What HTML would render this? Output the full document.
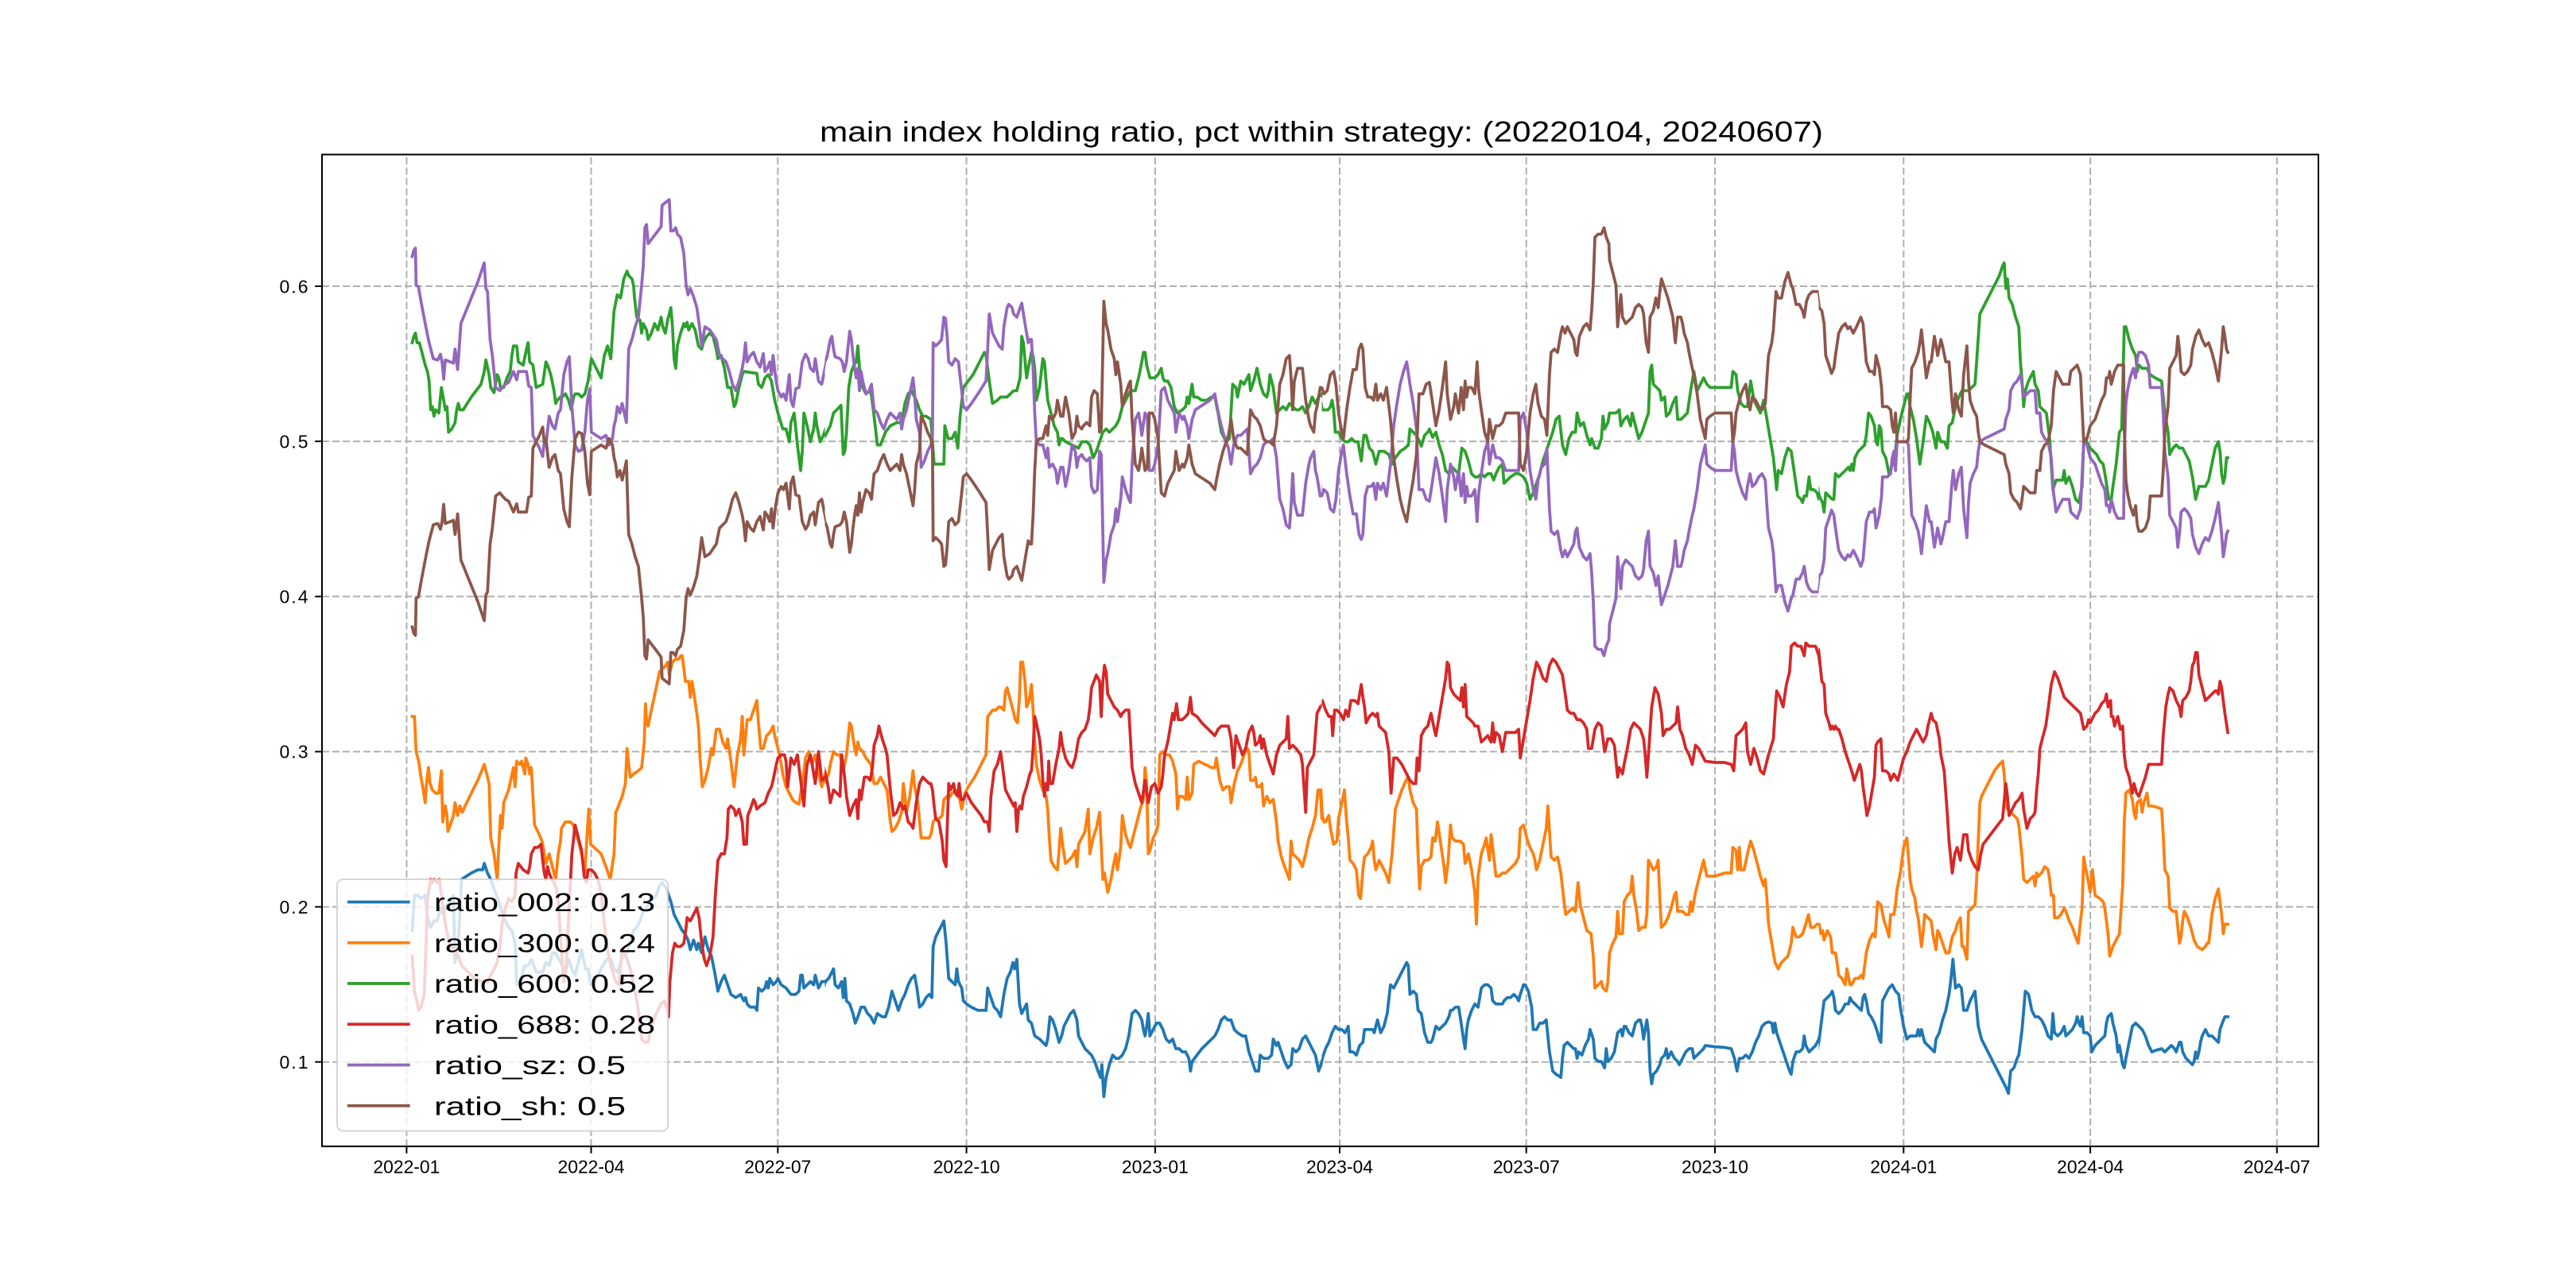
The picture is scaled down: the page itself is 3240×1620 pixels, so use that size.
<!DOCTYPE html>
<html><head><meta charset="utf-8"><style>
html,body{margin:0;padding:0;background:#fff;}
svg{display:block;}
text{font-family:"Liberation Sans","Noto Sans CJK SC",sans-serif;fill:#000;}
</style></head><body>
<svg width="3240" height="1620" viewBox="0 0 3240 1620" xmlns="http://www.w3.org/2000/svg">
<defs>
<clipPath id="c1"><rect x="400" y="190" width="637.5" height="1260"/></clipPath>
<clipPath id="c2"><rect x="1037.5" y="190" width="625" height="1260"/></clipPath>
<clipPath id="c3"><rect x="1662.5" y="190" width="625" height="1260"/></clipPath>
<clipPath id="c4"><rect x="2287.5" y="190" width="640" height="1260"/></clipPath>
</defs>
<rect width="3240" height="1620" fill="#fff"/>
<!-- grid -->
<g stroke="#b0b0b0" stroke-width="2" stroke-dasharray="9 4" fill="none">
<line x1="405" y1="1335.7" x2="2916" y2="1335.7"/>
<line x1="405" y1="1140.6" x2="2916" y2="1140.6"/>
<line x1="405" y1="945.4" x2="2916" y2="945.4"/>
<line x1="405" y1="750.3" x2="2916" y2="750.3"/>
<line x1="405" y1="555.1" x2="2916" y2="555.1"/>
<line x1="405" y1="360" x2="2916" y2="360"/>
<line x1="511.4" y1="1441.8" x2="511.4" y2="194.4"/>
<line x1="743.5" y1="1441.8" x2="743.5" y2="194.4"/>
<line x1="978.3" y1="1441.8" x2="978.3" y2="194.4"/>
<line x1="1215.6" y1="1441.8" x2="1215.6" y2="194.4"/>
<line x1="1452.9" y1="1441.8" x2="1452.9" y2="194.4"/>
<line x1="1685" y1="1441.8" x2="1685" y2="194.4"/>
<line x1="1919.7" y1="1441.8" x2="1919.7" y2="194.4"/>
<line x1="2157" y1="1441.8" x2="2157" y2="194.4"/>
<line x1="2394.3" y1="1441.8" x2="2394.3" y2="194.4"/>
<line x1="2629.1" y1="1441.8" x2="2629.1" y2="194.4"/>
<line x1="2863.8" y1="1441.8" x2="2863.8" y2="194.4"/>
</g>
<!-- series -->
<g fill="none" stroke-width="3.75" stroke-linejoin="round" stroke-linecap="square">
<!-- block 1 -->
<g clip-path="url(#c1)"><g transform="translate(405,190) scale(0.408163,0.803571)">
<polyline vector-effect="non-scaling-stroke" stroke="#1f77b4" points="278,1220 285,1165 295,1165 305,1170 318,1165 325,1200 335,1215 345,1205 355,1205 365,1185 375,1195 385,1180 395,1175 405,1165 410,1270 420,1240 430,1140 460,1130 480,1125 495,1125 500,1115 510,1130 520,1140 530,1155 545,1175 560,1200 575,1215 585,1220 595,1240 600,1305 610,1300 625,1275 635,1275 645,1265 660,1285 670,1285 680,1285 690,1270 700,1275 710,1255 720,1255 730,1265 740,1275 750,1285 760,1265 770,1280 780,1290 790,1270 800,1250 812,1280 820,1280 828,1305 840,1300 855,1285 865,1275 878,1265 890,1265 900,1280 910,1285 920,1270 930,1255 940,1255 950,1240 960,1220 970,1215 980,1205 990,1190 1000,1185 1010,1175 1020,1170 1030,1165 1040,1150 1048,1145 1055,1150 1062,1155 1068,1165 1075,1175 1085,1195 1095,1205 1110,1220 1118,1225 1128,1235 1135,1250 1145,1235 1155,1250 1160,1240 1170,1255 1180,1230 1190,1250 1200,1260 1210,1285 1220,1315 1230,1300 1240,1290 1250,1305 1260,1320 1275,1325 1290,1320 1300,1330 1305,1325 1310,1335 1320,1340 1335,1340 1340,1345 1345,1310 1355,1315 1365,1310 1370,1300 1375,1310 1380,1295 1390,1305 1400,1300 1405,1295 1415,1305 1430,1310 1445,1320 1460,1320 1470,1315 1475,1290 1480,1290 1485,1310 1495,1305 1505,1300 1515,1305 1520,1290 1525,1300 1530,1310 1540,1300 1550,1300 1560,1295 1568,1290"/>
<polyline vector-effect="non-scaling-stroke" stroke="#ff7f0e" points="278,885 285,885 290,940 298,955 305,980 312,1000 318,1020 322,990 328,965 333,990 340,1000 350,1005 360,1005 368,970 372,1050 380,1025 385,1040 388,1065 395,1055 405,1040 410,1020 418,1040 425,1025 432,1035 460,1005 480,985 500,960 515,990 520,1075 530,1100 540,1140 545,1085 550,1040 555,1060 560,1020 575,1000 590,965 595,995 600,955 610,960 615,955 620,965 625,975 628,950 635,960 640,975 645,965 655,1055 665,1065 678,1080 685,1100 690,1115 700,1100 710,1120 720,1140 728,1100 735,1080 738,1060 750,1050 765,1050 775,1055 780,1070 785,1070 800,1100 810,1130 818,1060 822,1030 828,1085 860,1100 875,1120 888,1140 900,1100 905,1035 910,1030 925,1010 935,990 940,935 945,960 950,980 960,975 975,970 985,965 993,925 997,865 1000,890 1005,900 1015,875 1030,840 1040,815 1050,810 1060,805 1065,800 1070,820 1080,800 1090,795 1100,795 1105,790 1110,790 1120,830 1130,830 1135,855 1140,830 1145,845 1155,880 1160,900 1165,950 1172,995 1180,985 1190,965 1200,935 1205,945 1215,905 1225,905 1235,925 1245,935 1250,920 1260,955 1270,995 1280,945 1290,920 1295,885 1300,945 1310,890 1320,890 1330,875 1340,860 1345,895 1352,935 1360,935 1370,915 1380,910 1385,905 1390,900 1395,915 1400,925 1410,945 1420,975 1430,995 1440,1005 1450,1015 1460,1020 1470,1022 1480,990 1490,950 1500,940 1510,960 1520,945 1530,975 1540,995 1550,975 1560,960 1568,950"/>
<polyline vector-effect="non-scaling-stroke" stroke="#2ca02c" points="278,300 283,290 288,285 293,300 300,300 308,315 318,335 325,345 330,360 335,405 340,400 345,415 350,405 360,410 368,370 375,390 380,405 385,400 390,440 400,435 410,425 415,405 420,395 425,405 435,405 460,385 490,365 500,345 505,327 515,350 520,370 530,378 540,350 545,355 550,370 560,370 570,355 580,345 585,320 590,305 600,305 605,330 620,335 630,310 635,300 640,330 650,335 660,370 680,365 690,330 695,335 705,350 715,375 720,395 725,390 735,385 740,385 750,380 760,390 768,405 775,385 780,380 790,380 800,385 810,380 820,360 830,325 840,335 860,355 870,320 880,305 890,325 900,250 910,225 920,230 930,200 940,188 945,195 955,200 960,210 963,230 970,260 980,265 985,285 990,270 1000,280 1005,295 1015,285 1025,270 1035,280 1045,260 1050,275 1058,285 1065,265 1075,245 1080,275 1085,325 1090,340 1095,305 1105,285 1115,270 1120,275 1125,268 1130,280 1140,270 1150,280 1160,305 1170,310 1175,300 1185,290 1195,285 1205,290 1215,310 1220,325 1230,320 1240,340 1250,370 1260,370 1270,400 1275,395 1285,370 1295,350 1300,345 1340,348 1345,365 1355,370 1365,355 1375,350 1385,360 1395,390 1405,410 1420,435 1430,435 1440,455 1445,425 1455,410 1465,460 1475,500 1480,470 1485,410 1495,430 1505,455 1515,435 1520,410 1525,430 1535,455 1545,445 1555,430 1568,430"/>
<polyline vector-effect="non-scaling-stroke" stroke="#d62728" points="278,1260 285,1315 290,1325 298,1345 305,1340 315,1320 320,1250 325,1170 330,1155 335,1140 340,1145 345,1140 355,1145 362,1140 370,1175 380,1210 395,1245 410,1250 420,1260 430,1275 450,1285 470,1295 490,1300 500,1300 510,1300 525,1285 540,1270 548,1245 555,1210 565,1185 575,1170 585,1175 595,1165 598,1130 605,1115 620,1125 635,1130 640,1120 645,1100 655,1090 665,1090 675,1085 680,1110 685,1130 690,1140 695,1120 700,1130 708,1140 715,1145 722,1155 728,1175 735,1230 740,1265 745,1300 752,1280 762,1180 770,1100 780,1055 790,1075 800,1095 808,1135 815,1145 820,1125 830,1125 840,1130 850,1140 860,1160 870,1210 880,1250 890,1275 905,1300 915,1305 925,1250 940,1265 950,1280 965,1315 975,1345 985,1390 995,1395 1005,1395 1015,1370 1030,1350 1045,1335 1055,1330 1065,1345 1068,1355 1072,1300 1080,1255 1087,1240 1095,1245 1105,1245 1115,1240 1122,1215 1125,1200 1135,1205 1145,1195 1155,1185 1162,1200 1170,1240 1178,1265 1185,1275 1195,1260 1205,1230 1212,1165 1220,1110 1230,1100 1240,1100 1248,1075 1252,1030 1260,1025 1270,1030 1275,1040 1285,1030 1295,1050 1300,1085 1308,1085 1312,1040 1320,1030 1330,1015 1335,1020 1340,1030 1350,1025 1365,1020 1375,1005 1385,995 1390,985 1400,960 1405,950 1415,945 1425,945 1430,955 1435,995 1445,950 1455,960 1465,945 1475,985 1485,1025 1490,985 1495,960 1505,945 1512,965 1520,990 1530,940 1540,985 1550,980 1560,1000 1568,1025"/>
<polyline id="sz1" vector-effect="non-scaling-stroke" stroke="#9467bd" points="278,165 283,155 288,152 290,210 297,212 305,235 318,270 330,300 343,325 357,327 365,318 370,330 375,357 380,327 395,330 405,332 410,310 418,342 428,270 440,255 460,230 480,205 500,175 505,215 510,220 518,295 525,320 535,370 548,375 556,370 565,365 575,362 590,345 600,358 605,345 615,345 630,345 637,368 645,370 650,445 660,455 670,465 680,478 685,455 690,460 700,415 710,430 718,435 728,410 735,405 745,350 755,330 762,322 770,400 780,460 790,470 800,468 810,440 818,390 825,372 830,440 845,445 860,450 875,445 885,460 895,450 900,430 905,420 910,400 918,410 925,395 938,425 945,310 955,295 965,275 975,260 985,210 990,180 995,120 1000,115 1005,145 1020,135 1035,125 1045,118 1048,85 1055,82 1065,78 1070,76 1075,125 1082,125 1090,120 1095,130 1105,135 1115,160 1122,210 1128,225 1135,215 1145,228 1155,245 1162,270 1170,305 1180,275 1195,280 1215,295 1225,320 1245,330 1255,345 1265,365 1275,375 1285,360 1295,340 1300,325 1305,300 1310,330 1320,320 1330,315 1340,330 1350,338 1360,317 1365,345 1372,340 1380,330 1385,350 1390,320 1398,355 1405,375 1415,385 1422,380 1430,390 1440,350 1445,390 1452,400 1460,372 1470,370 1480,330 1490,318 1498,325 1505,340 1515,345 1520,325 1530,360 1540,365 1550,340 1560,315 1568,290"/>
<polyline transform="matrix(1 0 0 -1 0 910)" vector-effect="non-scaling-stroke" stroke="#8c564b" points="278,165 283,155 288,152 290,210 297,212 305,235 318,270 330,300 343,325 357,327 365,318 370,330 375,357 380,327 395,330 405,332 410,310 418,342 428,270 440,255 460,230 480,205 500,175 505,215 510,220 518,295 525,320 535,370 548,375 556,370 565,365 575,362 590,345 600,358 605,345 615,345 630,345 637,368 645,370 650,445 660,455 670,465 680,478 685,455 690,460 700,415 710,430 718,435 728,410 735,405 745,350 755,330 762,322 770,400 780,460 790,470 800,468 810,440 818,390 825,372 830,440 845,445 860,450 875,445 885,460 895,450 900,430 905,420 910,400 918,410 925,395 938,425 945,310 955,295 965,275 975,260 985,210 990,180 995,120 1000,115 1005,145 1020,135 1035,125 1045,118 1048,85 1055,82 1065,78 1070,76 1075,125 1082,125 1090,120 1095,130 1105,135 1115,160 1122,210 1128,225 1135,215 1145,228 1155,245 1162,270 1170,305 1180,275 1195,280 1215,295 1225,320 1245,330 1255,345 1265,365 1275,375 1285,360 1295,340 1300,325 1305,300 1310,330 1320,320 1330,315 1340,330 1350,338 1360,317 1365,345 1372,340 1380,330 1385,350 1390,320 1398,355 1405,375 1415,385 1422,380 1430,390 1440,350 1445,390 1452,400 1460,372 1470,370 1480,330 1490,318 1498,325 1505,340 1515,345 1520,325 1530,360 1540,365 1550,340 1560,315 1568,290"/>
</g></g>
<!-- block 2 -->
<g clip-path="url(#c2)"><g transform="translate(1030,190) scale(0.408163,0.803571)">
<polyline vector-effect="non-scaling-stroke" stroke="#1f77b4" points="0,1310 10,1315 20,1300 30,1295 40,1285 45,1280 50,1305 60,1310 70,1300 75,1325 80,1295 85,1330 95,1335 105,1350 112,1365 120,1355 130,1340 140,1340 150,1350 160,1355 170,1365 180,1350 195,1355 205,1355 215,1340 225,1315 235,1330 245,1345 255,1330 265,1320 275,1305 285,1295 295,1290 302,1310 310,1340 320,1335 330,1325 340,1320 348,1325 352,1245 360,1230 370,1220 380,1210 385,1205 392,1240 400,1295 410,1300 420,1305 425,1280 430,1300 440,1310 445,1330 455,1335 470,1340 490,1345 515,1345 520,1310 530,1325 540,1340 550,1345 560,1355 570,1320 580,1295 590,1285 598,1270 603,1280 610,1265 618,1335 625,1350 635,1340 640,1335 645,1360 655,1365 665,1385 680,1390 690,1395 700,1400 705,1390 712,1355 720,1360 730,1375 740,1395 748,1385 755,1370 765,1360 775,1350 785,1345 795,1360 800,1385 810,1395 820,1405 830,1410 840,1415 850,1425 860,1440 868,1450 872,1430 878,1480 885,1450 895,1430 905,1415 915,1420 925,1420 935,1415 945,1405 955,1385 965,1350 975,1345 985,1350 995,1360 1000,1375 1005,1385 1010,1370 1015,1350 1020,1385 1030,1375 1040,1365 1050,1365 1060,1375 1070,1390 1080,1395 1090,1390 1100,1405 1110,1405 1120,1410 1130,1410 1140,1420 1145,1440 1150,1425 1165,1415 1180,1405 1200,1395 1220,1385 1230,1375 1240,1360 1250,1355 1260,1360 1270,1360 1280,1375 1290,1380 1305,1385 1315,1385 1325,1410 1335,1425 1345,1440 1355,1440 1360,1415 1370,1420 1385,1420 1395,1415 1400,1390 1410,1400 1415,1395 1425,1410 1435,1425 1445,1435 1455,1430 1460,1405 1470,1410 1480,1405 1490,1390 1500,1385 1510,1395 1520,1405 1530,1415 1540,1440 1550,1425 1560,1410 1568,1400"/>
<polyline vector-effect="non-scaling-stroke" stroke="#ff7f0e" points="0,990 10,995 20,985 30,975 35,960 45,940 55,945 65,945 75,970 85,945 95,895 100,900 110,935 115,945 120,925 125,935 135,940 145,950 160,960 170,990 180,990 190,980 200,990 210,1000 220,1050 225,1065 235,1060 245,1050 255,1035 260,990 265,1010 270,1035 280,1010 290,970 295,995 305,1020 315,1075 325,1075 340,1075 345,1070 352,1050 360,1045 370,1045 380,1040 385,1015 395,1010 405,1010 410,1005 420,1000 430,1005 440,1030 450,1005 460,995 480,980 500,960 515,945 520,885 528,880 535,875 545,875 555,870 560,870 570,875 575,845 580,840 590,860 598,875 605,890 612,895 618,855 622,800 628,800 635,830 640,870 648,860 655,835 660,875 665,925 670,960 680,985 690,1000 700,1010 705,1030 710,1075 715,1110 725,1120 735,1125 740,1095 745,1060 752,1090 760,1115 770,1110 780,1105 790,1095 795,1120 800,1085 810,1075 820,1065 830,1030 835,1100 845,1075 855,1060 865,1035 875,1140 880,1130 890,1160 900,1140 905,1125 915,1100 920,1125 930,1090 935,1040 945,1070 955,1085 960,1090 970,1070 980,1050 990,1030 1000,1015 1005,965 1010,990 1015,1100 1020,1095 1030,1075 1040,1065 1045,1055 1050,945 1060,940 1070,945 1080,945 1090,955 1100,975 1105,1030 1110,1010 1120,1010 1130,1015 1135,980 1140,1015 1150,1005 1155,960 1170,955 1190,960 1210,965 1220,965 1225,950 1235,985 1245,1000 1255,995 1265,995 1270,1020 1280,990 1290,970 1300,960 1310,945 1320,935 1325,940 1330,985 1340,985 1345,980 1350,995 1358,995 1365,990 1370,1025 1380,1010 1390,1020 1400,1015 1410,1050 1415,1080 1425,1105 1435,1120 1450,1140 1455,1080 1460,1100 1470,1105 1480,1110 1490,1120 1500,1100 1510,1075 1520,1060 1530,1040 1538,1000 1545,1000 1550,1045 1560,1050 1568,1040"/>
<polyline vector-effect="non-scaling-stroke" stroke="#2ca02c" points="0,430 8,455 20,445 30,435 35,430 45,410 55,405 68,398 75,475 80,470 85,440 92,370 100,345 108,335 115,330 120,305 125,340 135,370 145,380 160,375 170,415 180,460 190,460 205,440 220,430 240,425 255,425 265,395 275,380 285,375 300,390 310,405 320,415 330,415 345,420 355,490 365,490 375,490 385,490 388,430 398,450 410,450 420,440 428,465 435,415 445,370 460,360 475,350 495,330 510,315 515,320 525,360 535,395 550,390 560,385 570,385 580,385 590,380 600,375 610,375 620,355 625,290 630,300 640,355 645,340 655,315 660,320 665,340 670,390 680,370 690,325 695,330 705,390 715,410 725,430 735,440 740,460 745,450 750,450 760,455 780,460 800,465 810,455 825,455 835,460 845,480 855,470 865,455 875,440 885,435 895,440 905,435 915,430 925,420 935,400 945,390 960,375 975,375 985,355 995,330 1000,315 1005,315 1010,335 1020,355 1035,355 1045,350 1055,340 1060,355 1065,360 1075,360 1085,370 1095,400 1105,410 1120,405 1130,400 1135,385 1140,395 1145,380 1150,365 1155,385 1165,385 1180,390 1195,390 1210,385 1220,385 1230,410 1240,440 1255,455 1265,450 1275,365 1285,370 1290,385 1300,360 1310,365 1320,355 1325,350 1330,375 1340,360 1350,340 1360,365 1370,380 1380,385 1385,375 1390,350 1400,370 1410,410 1420,405 1430,400 1440,405 1450,395 1460,400 1470,405 1480,405 1490,400 1500,410 1510,400 1520,385 1530,395 1540,385 1550,380 1560,395 1568,405"/>
<polyline vector-effect="non-scaling-stroke" stroke="#d62728" points="0,975 8,950 15,965 25,985 30,1000 35,1020 45,1000 55,1005 65,1010 70,945 78,975 85,1010 95,1040 105,1025 110,1020 115,1015 120,1045 125,1000 130,1015 140,980 150,980 158,985 165,965 170,930 180,915 185,900 195,920 205,935 210,945 220,1000 230,1040 240,1035 250,1020 260,1030 265,1025 275,1050 285,1055 290,1060 300,1020 310,990 320,980 330,985 340,990 345,990 350,1000 355,1025 360,1045 370,1050 380,1080 385,1110 392,1120 395,1065 400,990 405,1000 410,995 415,990 420,1005 428,1010 432,990 438,1015 445,1015 455,1005 470,1020 485,1030 500,1040 510,1050 520,1050 525,1065 530,1010 540,970 550,960 560,940 565,960 575,1000 590,1015 600,1025 605,1020 610,1065 615,1030 620,1025 625,1030 630,1010 640,995 650,975 655,970 660,935 665,885 670,895 680,920 685,945 690,985 695,1010 700,990 705,1000 708,955 712,990 720,990 730,960 740,935 745,910 750,930 760,950 770,960 780,965 790,950 795,935 800,920 810,910 820,905 830,890 835,870 840,840 855,820 865,830 870,885 875,830 880,805 885,815 890,850 900,860 910,870 920,875 930,885 935,880 945,875 955,875 960,920 965,965 975,990 985,1005 995,1020 1005,985 1015,1020 1025,995 1035,990 1045,1005 1055,995 1060,975 1065,945 1075,925 1085,895 1090,880 1095,890 1102,865 1108,890 1120,890 1130,885 1138,880 1145,855 1150,880 1165,885 1180,895 1200,905 1220,915 1230,905 1240,900 1250,900 1262,900 1270,920 1278,965 1285,915 1295,930 1305,945 1315,935 1325,910 1335,900 1340,910 1345,930 1355,925 1360,915 1365,935 1370,920 1380,945 1390,960 1400,975 1410,945 1420,930 1430,925 1440,920 1445,885 1450,935 1460,930 1470,935 1485,945 1490,960 1500,1035 1505,965 1515,955 1525,945 1535,880 1545,870 1555,865 1568,880"/>
<polyline vector-effect="non-scaling-stroke" stroke="#9467bd" points="0,370 10,355 18,330 25,322 35,295 40,290 45,310 50,322 65,325 72,330 78,345 85,330 90,305 95,282 100,295 105,320 110,340 115,355 120,340 125,375 130,345 135,360 145,380 155,375 162,365 170,405 180,410 190,425 200,435 210,420 220,410 230,415 240,420 250,410 255,435 260,420 270,405 280,380 290,355 295,380 300,420 310,440 315,495 325,485 335,470 345,460 350,445 352,300 360,305 370,300 378,295 385,260 390,262 395,290 400,330 410,335 420,325 430,330 440,375 445,400 455,405 470,395 490,380 515,360 520,310 525,255 535,285 545,295 555,305 565,310 570,275 580,245 585,240 595,245 600,255 610,260 620,245 625,238 635,270 645,300 650,295 655,295 660,340 665,410 670,455 680,460 690,460 700,480 705,465 710,495 720,490 730,500 735,520 745,495 752,495 760,525 770,500 780,460 790,470 795,495 800,480 810,475 815,480 825,485 835,480 840,525 848,535 858,530 865,470 870,475 878,675 885,640 890,630 900,600 910,585 915,560 920,580 930,545 935,510 945,530 955,545 960,550 965,490 975,420 985,410 990,425 995,445 1005,410 1012,415 1018,500 1028,500 1035,490 1045,460 1055,375 1065,370 1075,390 1085,400 1095,410 1100,440 1110,410 1120,420 1125,415 1135,430 1140,450 1150,420 1160,405 1175,400 1190,395 1205,390 1220,380 1225,395 1235,420 1245,440 1255,455 1262,465 1270,490 1278,460 1285,450 1290,445 1300,445 1310,440 1320,435 1330,505 1340,495 1350,490 1360,480 1370,460 1380,455 1390,455 1400,450 1410,480 1420,545 1430,560 1440,585 1450,590 1455,555 1460,505 1465,550 1475,570 1490,570 1500,520 1510,490 1515,480 1525,470 1530,500 1535,510 1545,540 1555,535 1568,520"/>
<polyline transform="matrix(1 0 0 -1 0 910)" vector-effect="non-scaling-stroke" stroke="#8c564b" points="0,370 10,355 18,330 25,322 35,295 40,290 45,310 50,322 65,325 72,330 78,345 85,330 90,305 95,282 100,295 105,320 110,340 115,355 120,340 125,375 130,345 135,360 145,380 155,375 162,365 170,405 180,410 190,425 200,435 210,420 220,410 230,415 240,420 250,410 255,435 260,420 270,405 280,380 290,355 295,380 300,420 310,440 315,495 325,485 335,470 345,460 350,445 352,300 360,305 370,300 378,295 385,260 390,262 395,290 400,330 410,335 420,325 430,330 440,375 445,400 455,405 470,395 490,380 515,360 520,310 525,255 535,285 545,295 555,305 565,310 570,275 580,245 585,240 595,245 600,255 610,260 620,245 625,238 635,270 645,300 650,295 655,295 660,340 665,410 670,455 680,460 690,460 700,480 705,465 710,495 720,490 730,500 735,520 745,495 752,495 760,525 770,500 780,460 790,470 795,495 800,480 810,475 815,480 825,485 835,480 840,525 848,535 858,530 865,470 870,475 878,675 885,640 890,630 900,600 910,585 915,560 920,580 930,545 935,510 945,530 955,545 960,550 965,490 975,420 985,410 990,425 995,445 1005,410 1012,415 1018,500 1028,500 1035,490 1045,460 1055,375 1065,370 1075,390 1085,400 1095,410 1100,440 1110,410 1120,420 1125,415 1135,430 1140,450 1150,420 1160,405 1175,400 1190,395 1205,390 1220,380 1225,395 1235,420 1245,440 1255,455 1262,465 1270,490 1278,460 1285,450 1290,445 1300,445 1310,440 1320,435 1330,505 1340,495 1350,490 1360,480 1370,460 1380,455 1390,455 1400,450 1410,480 1420,545 1430,560 1440,585 1450,590 1455,555 1460,505 1465,550 1475,570 1490,570 1500,520 1510,490 1515,480 1525,470 1530,500 1535,510 1545,540 1555,535 1568,520"/>
</g></g>
<!-- block 3 -->
<g clip-path="url(#c3)"><g transform="translate(1655,190) scale(0.408163,0.803571)">
<polyline vector-effect="non-scaling-stroke" stroke="#1f77b4" points="0,1410 5,1415 12,1440 20,1420 30,1405 40,1395 50,1380 60,1370 70,1375 80,1375 90,1380 100,1370 105,1410 115,1410 125,1415 135,1400 145,1395 150,1375 160,1375 175,1375 180,1380 185,1370 190,1360 200,1380 210,1370 220,1350 230,1305 240,1310 250,1300 260,1290 270,1280 280,1270 285,1275 290,1320 300,1315 310,1320 315,1345 325,1350 335,1380 345,1395 355,1395 360,1390 370,1370 380,1375 390,1370 400,1365 410,1355 415,1345 420,1345 430,1340 440,1340 445,1355 455,1390 460,1405 465,1375 470,1360 480,1345 490,1335 500,1340 505,1325 510,1310 520,1305 530,1305 540,1310 545,1330 555,1335 565,1335 575,1335 580,1330 590,1325 600,1325 610,1320 620,1325 625,1330 630,1320 640,1305 645,1305 655,1315 665,1340 670,1375 680,1375 690,1365 700,1365 710,1360 715,1385 720,1410 730,1440 740,1445 750,1448 755,1450 760,1420 765,1400 775,1395 785,1400 795,1405 800,1405 805,1420 810,1410 820,1415 830,1400 840,1390 845,1375 855,1390 860,1420 870,1425 880,1425 890,1435 895,1405 900,1425 910,1420 920,1410 930,1380 940,1375 945,1385 950,1370 955,1370 965,1380 975,1385 985,1365 995,1360 1000,1360 1005,1370 1010,1390 1015,1375 1020,1360 1025,1380 1030,1440 1035,1460 1040,1445 1050,1440 1060,1430 1065,1420 1075,1415 1080,1405 1085,1420 1095,1410 1105,1420 1115,1425 1120,1430 1130,1420 1140,1410 1150,1405 1160,1405 1165,1420 1175,1415 1185,1410 1195,1405 1200,1400 1230,1402 1260,1403 1280,1405 1290,1420 1298,1440 1305,1420 1315,1420 1325,1415 1335,1420 1345,1410 1355,1395 1365,1385 1375,1370 1385,1365 1395,1363 1405,1365 1410,1380 1415,1365 1420,1380 1430,1395 1440,1410 1450,1425 1460,1440 1465,1445 1470,1425 1480,1410 1490,1410 1500,1405 1505,1385 1510,1400 1520,1410 1530,1405 1540,1400 1550,1390 1555,1380 1560,1350 1568,1330"/>
<polyline vector-effect="non-scaling-stroke" stroke="#ff7f0e" points="0,1040 5,1035 10,1000 15,995 20,1040 25,1050 30,1050 40,1040 45,1060 55,1085 65,1080 70,1045 80,1020 88,1000 95,1050 100,1075 105,1110 115,1115 125,1125 132,1165 138,1170 145,1125 150,1105 160,1100 170,1090 175,1080 180,1110 185,1125 195,1110 205,1120 215,1130 225,1145 235,1100 245,1030 255,1015 265,1000 278,985 285,980 290,1000 300,1020 310,1030 315,1100 320,1155 325,1120 335,1110 345,1110 355,1105 360,1075 368,1080 375,1050 385,1085 395,1120 400,1145 408,1110 415,1055 420,1075 430,1080 445,1080 455,1085 460,1115 470,1100 480,1125 490,1160 495,1210 500,1135 510,1100 520,1085 525,1075 535,1110 540,1070 545,1090 555,1135 565,1135 575,1130 585,1130 595,1125 605,1120 615,1115 625,1105 630,1060 640,1055 650,1075 660,1090 670,1100 675,1110 680,1125 690,1110 700,1085 710,1060 715,1025 720,1065 725,1105 735,1110 745,1105 755,1130 765,1175 770,1195 780,1190 790,1185 800,1190 808,1145 815,1180 825,1200 835,1220 848,1225 855,1260 860,1310 870,1305 880,1300 885,1310 895,1315 900,1300 905,1255 915,1240 925,1230 930,1190 935,1225 945,1225 950,1175 960,1165 970,1160 975,1135 980,1165 990,1195 995,1220 1005,1215 1015,1215 1020,1195 1025,1110 1030,1115 1040,1125 1050,1120 1055,1110 1060,1170 1065,1215 1075,1210 1085,1200 1095,1185 1105,1165 1110,1160 1115,1190 1120,1190 1130,1190 1140,1195 1150,1195 1155,1175 1160,1190 1170,1160 1180,1140 1190,1120 1195,1110 1205,1135 1230,1135 1260,1130 1280,1130 1285,1090 1295,1095 1300,1125 1305,1090 1310,1125 1320,1125 1330,1100 1340,1080 1350,1095 1360,1115 1370,1135 1380,1150 1385,1140 1390,1170 1395,1210 1405,1240 1415,1270 1425,1280 1435,1270 1445,1265 1455,1260 1465,1240 1470,1215 1480,1230 1490,1230 1500,1225 1510,1210 1518,1195 1525,1215 1535,1215 1545,1210 1555,1210 1560,1225 1568,1235"/>
<polyline vector-effect="non-scaling-stroke" stroke="#2ca02c" points="0,375 8,372 12,385 20,405 30,405 38,405 45,400 50,390 55,405 60,440 70,440 80,450 90,455 100,455 110,450 120,455 130,455 140,485 148,445 155,445 165,465 175,470 185,490 195,470 210,470 225,475 235,490 245,480 260,470 275,465 285,460 290,435 300,440 310,445 320,455 325,462 335,445 345,440 350,435 360,448 370,440 380,460 390,475 400,500 410,505 420,495 430,500 440,505 450,465 460,470 470,485 480,505 490,510 500,510 510,505 520,510 530,505 540,505 548,515 555,505 565,495 575,490 580,520 590,515 600,510 615,505 625,505 640,510 650,520 660,545 670,535 680,520 690,505 700,485 710,470 720,455 730,440 740,420 750,415 760,460 770,475 780,450 790,440 800,440 805,410 815,430 825,425 835,445 845,460 850,450 860,465 870,465 880,450 885,415 890,435 900,425 905,410 915,410 925,410 935,405 940,430 950,420 960,415 970,430 975,410 985,430 995,450 1005,440 1015,425 1025,410 1030,345 1035,335 1040,365 1050,370 1060,375 1065,390 1075,385 1080,415 1090,410 1100,395 1110,385 1115,420 1125,420 1135,415 1145,410 1155,375 1165,345 1175,375 1185,365 1195,355 1205,365 1215,370 1230,370 1260,370 1280,370 1285,345 1295,350 1300,375 1310,395 1320,400 1330,400 1340,360 1350,390 1360,400 1370,410 1380,390 1390,420 1400,450 1410,480 1420,530 1425,500 1435,505 1445,480 1455,465 1465,470 1475,505 1485,540 1495,545 1500,550 1505,540 1512,540 1520,510 1525,530 1535,530 1545,535 1550,545 1555,540 1560,565 1568,555"/>
<polyline vector-effect="non-scaling-stroke" stroke="#d62728" points="0,945 5,880 10,865 20,860 30,875 40,885 48,885 52,915 58,875 65,875 75,880 85,890 92,875 100,885 108,860 120,860 130,865 140,835 145,855 150,870 155,895 165,885 175,880 185,885 190,880 195,900 205,905 215,910 225,940 232,1005 240,950 250,950 265,960 280,975 290,985 300,990 308,990 312,950 318,970 325,915 335,905 345,900 355,880 365,905 370,915 380,885 390,855 400,825 405,800 410,805 415,840 425,850 435,855 445,860 450,840 455,870 460,835 465,885 475,890 485,895 490,900 500,900 510,925 520,920 530,915 540,925 545,895 550,925 555,910 565,915 575,940 585,910 600,910 615,910 625,905 630,950 640,920 650,890 660,860 670,825 680,800 690,810 700,825 710,830 720,805 730,795 740,800 750,810 760,820 770,855 775,875 785,880 795,880 805,890 815,890 825,895 835,905 840,935 850,935 860,905 870,895 880,900 890,940 900,920 910,920 920,930 930,980 935,965 945,975 950,960 960,935 970,905 980,895 990,900 1000,905 1010,920 1015,945 1020,980 1025,945 1035,870 1045,840 1055,850 1065,880 1070,915 1080,905 1090,905 1100,900 1110,895 1115,870 1122,905 1130,915 1140,935 1150,945 1160,960 1170,930 1180,935 1190,945 1200,955 1230,957 1260,957 1280,960 1288,970 1295,915 1305,910 1315,905 1325,895 1330,940 1340,960 1350,935 1360,950 1370,970 1380,975 1385,965 1395,945 1410,920 1415,880 1420,845 1430,855 1440,870 1450,835 1460,815 1465,775 1475,770 1485,775 1495,775 1505,790 1510,770 1520,775 1540,775 1550,790 1560,830 1568,870"/>
<polyline vector-effect="non-scaling-stroke" stroke="#9467bd" points="0,470 5,505 12,510 18,540 25,530 35,535 45,560 55,565 62,545 70,500 80,470 85,460 95,505 105,540 115,568 125,568 133,600 140,608 145,600 152,540 160,525 170,525 178,520 185,545 190,520 200,530 208,520 218,540 230,490 240,430 250,395 260,365 270,345 280,330 290,365 300,395 310,435 318,530 330,530 340,545 350,548 360,515 370,480 380,505 390,540 400,580 405,530 415,490 425,510 430,530 440,500 448,540 455,505 460,550 465,525 470,540 480,540 490,530 497,580 502,535 510,505 520,470 530,455 535,490 545,460 555,480 565,480 575,485 585,500 600,500 615,500 625,500 630,420 640,410 650,440 660,500 670,530 678,545 685,515 695,495 705,490 712,465 720,560 725,595 735,600 745,595 755,625 760,635 768,625 775,635 785,625 795,615 800,595 805,590 812,620 825,635 835,640 845,630 850,660 855,705 860,775 870,780 880,780 888,790 895,775 903,765 905,740 915,720 925,700 930,635 935,660 940,685 945,650 955,640 965,645 975,650 985,665 995,670 1005,665 1010,655 1018,610 1025,595 1030,650 1040,660 1048,680 1055,665 1060,690 1065,710 1075,695 1085,680 1095,660 1100,650 1108,610 1115,650 1125,650 1130,640 1135,625 1145,610 1150,595 1160,570 1165,560 1175,530 1185,490 1195,470 1200,460 1205,490 1215,495 1230,500 1250,500 1270,500 1280,500 1285,455 1290,470 1295,500 1305,520 1315,535 1325,545 1330,525 1338,505 1345,525 1355,520 1365,510 1375,505 1385,515 1390,555 1395,590 1405,610 1410,630 1418,690 1425,680 1435,680 1445,705 1455,720 1465,700 1470,695 1480,670 1490,670 1500,660 1505,650 1512,675 1520,685 1530,690 1540,690 1550,690 1555,670 1562,645 1568,590"/>
<polyline transform="matrix(1 0 0 -1 0 910)" vector-effect="non-scaling-stroke" stroke="#8c564b" points="0,470 5,505 12,510 18,540 25,530 35,535 45,560 55,565 62,545 70,500 80,470 85,460 95,505 105,540 115,568 125,568 133,600 140,608 145,600 152,540 160,525 170,525 178,520 185,545 190,520 200,530 208,520 218,540 230,490 240,430 250,395 260,365 270,345 280,330 290,365 300,395 310,435 318,530 330,530 340,545 350,548 360,515 370,480 380,505 390,540 400,580 405,530 415,490 425,510 430,530 440,500 448,540 455,505 460,550 465,525 470,540 480,540 490,530 497,580 502,535 510,505 520,470 530,455 535,490 545,460 555,480 565,480 575,485 585,500 600,500 615,500 625,500 630,420 640,410 650,440 660,500 670,530 678,545 685,515 695,495 705,490 712,465 720,560 725,595 735,600 745,595 755,625 760,635 768,625 775,635 785,625 795,615 800,595 805,590 812,620 825,635 835,640 845,630 850,660 855,705 860,775 870,780 880,780 888,790 895,775 903,765 905,740 915,720 925,700 930,635 935,660 940,685 945,650 955,640 965,645 975,650 985,665 995,670 1005,665 1010,655 1018,610 1025,595 1030,650 1040,660 1048,680 1055,665 1060,690 1065,710 1075,695 1085,680 1095,660 1100,650 1108,610 1115,650 1125,650 1130,640 1135,625 1145,610 1150,595 1160,570 1165,560 1175,530 1185,490 1195,470 1200,460 1205,490 1215,495 1230,500 1250,500 1270,500 1280,500 1285,455 1290,470 1295,500 1305,520 1315,535 1325,545 1330,525 1338,505 1345,525 1355,520 1365,510 1375,505 1385,515 1390,555 1395,590 1405,610 1410,630 1418,690 1425,680 1435,680 1445,705 1455,720 1465,700 1470,695 1480,670 1490,670 1500,660 1505,650 1512,675 1520,685 1530,690 1540,690 1550,690 1555,670 1562,645 1568,590"/>
</g></g>
<!-- block 4 -->
<g clip-path="url(#c4)"><g transform="translate(2280,190) scale(0.408163,0.803571)">
<polyline vector-effect="non-scaling-stroke" stroke="#1f77b4" points="0,1405 10,1405 15,1405 20,1390 25,1370 30,1350 35,1330 45,1325 55,1320 60,1315 65,1325 70,1345 80,1350 90,1345 100,1335 110,1335 115,1325 120,1330 130,1335 140,1340 150,1345 155,1325 160,1320 165,1330 172,1350 180,1355 190,1365 200,1380 205,1390 210,1395 215,1330 225,1320 235,1310 245,1305 255,1315 265,1320 270,1340 280,1370 290,1390 300,1385 310,1385 320,1385 325,1375 330,1385 335,1375 340,1385 345,1395 355,1400 365,1405 375,1410 380,1390 390,1380 400,1360 410,1345 420,1320 425,1300 432,1265 440,1310 450,1305 458,1310 465,1345 475,1345 485,1330 495,1320 500,1315 510,1370 520,1390 535,1405 550,1420 565,1435 580,1450 595,1465 603,1475 610,1440 620,1435 630,1420 635,1415 645,1375 655,1315 665,1320 675,1345 685,1355 695,1355 705,1360 715,1370 725,1385 735,1390 740,1350 745,1380 755,1385 765,1380 775,1370 780,1385 790,1380 800,1375 810,1365 815,1355 820,1365 825,1370 830,1355 835,1380 845,1380 855,1385 860,1410 870,1400 880,1395 890,1390 900,1385 905,1365 910,1355 920,1350 925,1365 935,1385 940,1410 945,1400 950,1415 955,1430 960,1435 965,1420 975,1395 985,1370 995,1365 1005,1370 1015,1375 1025,1385 1035,1400 1045,1410 1060,1407 1075,1405 1085,1410 1095,1405 1105,1400 1115,1405 1120,1410 1130,1395 1135,1395 1140,1410 1150,1420 1160,1425 1170,1430 1175,1425 1180,1410 1185,1420 1190,1410 1195,1395 1200,1385 1210,1375 1220,1385 1230,1385 1240,1390 1250,1395 1255,1375 1262,1365 1270,1355 1279,1355"/>
<polyline vector-effect="non-scaling-stroke" stroke="#ff7f0e" points="0,1215 10,1215 20,1210 25,1225 30,1220 35,1235 45,1220 55,1230 60,1255 70,1255 75,1270 80,1290 90,1295 100,1305 105,1280 115,1305 120,1305 130,1295 140,1295 150,1290 155,1295 160,1275 165,1255 175,1235 185,1225 192,1230 200,1175 210,1180 220,1205 230,1220 235,1230 240,1195 250,1195 255,1180 260,1155 270,1130 280,1090 290,1075 295,1105 300,1140 305,1155 315,1170 320,1190 325,1200 335,1245 340,1225 345,1195 355,1200 365,1205 370,1225 380,1250 385,1220 390,1225 400,1240 410,1255 420,1255 430,1230 440,1220 445,1210 455,1200 460,1245 465,1245 470,1255 475,1265 480,1190 490,1185 500,1180 505,1140 510,1080 515,1020 520,1010 530,1000 545,985 560,970 575,960 585,955 590,975 595,1020 600,1030 610,1035 620,1040 630,1045 635,1055 640,1080 645,1105 650,1140 660,1145 670,1140 680,1135 685,1150 690,1130 695,1135 705,1130 715,1120 725,1125 730,1140 735,1165 742,1165 745,1200 755,1200 765,1195 775,1185 780,1190 790,1205 800,1215 810,1230 818,1240 825,1205 830,1185 835,1105 840,1120 848,1140 855,1160 862,1125 870,1165 885,1170 895,1175 900,1185 910,1225 915,1260 925,1245 935,1235 945,1225 955,1150 960,1050 965,1005 975,1000 985,1015 990,1035 995,1045 1000,1020 1010,1015 1015,1035 1020,1020 1030,1005 1035,1025 1045,1025 1060,1027 1075,1030 1080,1070 1085,1125 1095,1135 1100,1185 1110,1190 1120,1190 1125,1215 1130,1240 1135,1230 1140,1205 1145,1190 1155,1200 1165,1215 1175,1235 1185,1245 1200,1250 1210,1245 1215,1240 1220,1240 1225,1220 1230,1195 1240,1170 1250,1155 1255,1175 1260,1195 1265,1225 1270,1210 1279,1210"/>
<polyline vector-effect="non-scaling-stroke" stroke="#2ca02c" points="0,530 10,528 15,525 20,540 25,545 30,550 35,565 40,535 50,540 60,545 65,545 70,505 80,510 90,505 100,500 110,495 115,500 120,490 125,500 130,480 140,470 150,465 160,460 165,445 172,410 180,415 190,430 195,455 200,460 205,430 210,435 215,470 225,480 235,505 240,500 250,480 255,470 260,445 270,420 280,400 290,380 295,380 300,400 310,420 320,450 330,490 340,455 350,415 360,425 370,440 380,465 385,440 395,455 405,455 410,460 415,465 420,430 430,425 440,400 450,385 460,375 470,375 480,375 490,370 500,365 505,330 515,255 525,245 535,235 545,225 555,215 565,205 575,195 585,180 590,175 595,215 600,200 605,230 615,240 625,260 635,275 640,330 645,360 650,400 655,375 665,360 675,350 680,345 685,365 695,375 700,400 710,405 720,410 730,450 735,490 740,530 750,515 760,515 770,515 775,500 780,520 790,510 800,525 810,545 820,550 830,525 835,455 840,450 855,465 865,470 875,475 885,485 895,490 902,510 912,545 920,545 925,525 935,490 945,440 952,435 960,275 965,275 975,295 985,310 995,320 1000,345 1005,335 1015,340 1030,340 1040,350 1055,355 1075,360 1085,410 1095,440 1100,475 1110,465 1120,460 1130,465 1140,465 1150,475 1160,485 1170,510 1180,545 1190,525 1210,525 1220,515 1230,490 1240,465 1250,455 1255,470 1260,505 1265,520 1270,510 1275,480 1279,480"/>
<polyline vector-effect="non-scaling-stroke" stroke="#d62728" points="0,775 10,775 18,780 22,800 28,830 35,835 40,880 50,895 55,905 60,900 65,905 70,900 75,905 80,905 90,920 100,940 110,955 120,970 128,985 135,975 145,960 150,970 155,995 162,1020 167,1040 175,1025 185,995 190,980 195,930 200,925 210,920 215,970 225,970 235,975 240,985 250,975 262,985 270,970 280,950 290,940 300,925 310,915 320,905 330,915 340,925 350,915 355,900 365,880 370,890 380,895 390,920 395,945 405,970 410,1005 415,1040 420,1080 430,1130 438,1100 445,1090 455,1110 460,1090 465,1070 475,1070 480,1095 490,1110 500,1120 510,1125 518,1100 525,1085 540,1075 555,1065 570,1055 585,1045 595,990 600,1010 605,1040 615,1030 625,1020 635,1015 645,1005 650,1030 660,1060 670,1045 680,1040 685,1035 690,1000 695,975 700,935 710,915 718,900 725,875 735,835 745,815 755,825 765,840 775,855 785,860 795,865 805,870 815,875 825,880 835,905 845,900 850,890 855,895 860,890 870,880 880,875 890,865 900,860 905,850 910,870 918,860 920,885 925,885 930,900 940,885 948,905 955,900 960,945 965,965 975,980 985,1005 990,990 998,1005 1005,1010 1015,995 1025,980 1035,960 1045,960 1060,960 1075,960 1080,915 1088,870 1095,850 1100,840 1110,845 1120,860 1130,870 1135,885 1140,860 1150,855 1160,845 1165,830 1170,805 1175,800 1180,785 1185,785 1190,820 1200,840 1210,860 1220,855 1230,850 1240,845 1245,845 1250,850 1255,830 1260,840 1265,860 1270,880 1279,910"/>
<polyline vector-effect="non-scaling-stroke" stroke="#9467bd" points="0,690 8,690 15,685 20,665 28,660 35,640 40,590 50,575 58,562 65,570 70,590 80,625 90,635 100,640 108,632 115,635 125,625 135,635 148,650 155,640 165,580 175,565 185,565 190,560 195,590 205,570 212,540 215,510 230,510 240,505 245,480 250,470 255,500 260,455 270,455 280,455 290,455 295,460 300,520 305,570 315,580 325,595 330,610 335,630 345,580 350,555 360,580 365,580 375,620 385,590 395,615 400,605 410,580 420,580 428,525 433,500 440,530 450,505 458,495 465,560 475,605 480,550 485,520 495,505 505,495 510,470 515,455 530,450 550,445 570,440 590,435 595,420 605,405 610,375 620,365 630,360 640,350 645,365 650,385 660,380 670,375 685,375 690,410 700,410 705,440 715,450 725,455 735,480 742,535 750,565 760,555 770,545 780,545 790,545 795,565 805,570 815,575 825,560 835,455 845,460 855,480 870,490 880,505 890,520 900,530 905,555 912,555 915,565 920,545 925,555 930,565 940,575 950,575 958,575 960,475 965,395 970,375 978,355 988,340 995,355 1000,325 1005,315 1015,315 1025,320 1035,335 1040,370 1055,370 1065,370 1075,370 1080,410 1085,470 1095,510 1100,570 1110,580 1120,590 1125,620 1130,600 1135,565 1145,560 1155,565 1165,575 1170,600 1180,620 1190,630 1200,615 1210,605 1220,610 1230,595 1240,575 1250,550 1255,575 1260,600 1265,635 1270,620 1275,600 1279,595"/>
<polyline transform="matrix(1 0 0 -1 0 910)" vector-effect="non-scaling-stroke" stroke="#8c564b" points="0,690 8,690 15,685 20,665 28,660 35,640 40,590 50,575 58,562 65,570 70,590 80,625 90,635 100,640 108,632 115,635 125,625 135,635 148,650 155,640 165,580 175,565 185,565 190,560 195,590 205,570 212,540 215,510 230,510 240,505 245,480 250,470 255,500 260,455 270,455 280,455 290,455 295,460 300,520 305,570 315,580 325,595 330,610 335,630 345,580 350,555 360,580 365,580 375,620 385,590 395,615 400,605 410,580 420,580 428,525 433,500 440,530 450,505 458,495 465,560 475,605 480,550 485,520 495,505 505,495 510,470 515,455 530,450 550,445 570,440 590,435 595,420 605,405 610,375 620,365 630,360 640,350 645,365 650,385 660,380 670,375 685,375 690,410 700,410 705,440 715,450 725,455 735,480 742,535 750,565 760,555 770,545 780,545 790,545 795,565 805,570 815,575 825,560 835,455 845,460 855,480 870,490 880,505 890,520 900,530 905,555 912,555 915,565 920,545 925,555 930,565 940,575 950,575 958,575 960,475 965,395 970,375 978,355 988,340 995,355 1000,325 1005,315 1015,315 1025,320 1035,335 1040,370 1055,370 1065,370 1075,370 1080,410 1085,470 1095,510 1100,570 1110,580 1120,590 1125,620 1130,600 1135,565 1145,560 1155,565 1165,575 1170,600 1180,620 1190,630 1200,615 1210,605 1220,610 1230,595 1240,575 1250,550 1255,575 1260,600 1265,635 1270,620 1275,600 1279,595"/>
</g></g>
</g>
<!-- spines -->
<rect x="405" y="194.4" width="2511" height="1247.4" fill="none" stroke="#000" stroke-width="2"/>
<!-- ticks -->
<g stroke="#000" stroke-width="2">
<line x1="511.4" y1="1441.8" x2="511.4" y2="1450.6"/>
<line x1="743.5" y1="1441.8" x2="743.5" y2="1450.6"/>
<line x1="978.3" y1="1441.8" x2="978.3" y2="1450.6"/>
<line x1="1215.6" y1="1441.8" x2="1215.6" y2="1450.6"/>
<line x1="1452.9" y1="1441.8" x2="1452.9" y2="1450.6"/>
<line x1="1685" y1="1441.8" x2="1685" y2="1450.6"/>
<line x1="1919.7" y1="1441.8" x2="1919.7" y2="1450.6"/>
<line x1="2157" y1="1441.8" x2="2157" y2="1450.6"/>
<line x1="2394.3" y1="1441.8" x2="2394.3" y2="1450.6"/>
<line x1="2629.1" y1="1441.8" x2="2629.1" y2="1450.6"/>
<line x1="2863.8" y1="1441.8" x2="2863.8" y2="1450.6"/>
<line x1="396.2" y1="1335.7" x2="405" y2="1335.7"/>
<line x1="396.2" y1="1140.6" x2="405" y2="1140.6"/>
<line x1="396.2" y1="945.4" x2="405" y2="945.4"/>
<line x1="396.2" y1="750.3" x2="405" y2="750.3"/>
<line x1="396.2" y1="555.1" x2="405" y2="555.1"/>
<line x1="396.2" y1="360" x2="405" y2="360"/>
</g>
<g font-size="23" text-anchor="middle">
<text x="511.4" y="1475.5" textLength="84" lengthAdjust="spacingAndGlyphs">2022-01</text>
<text x="743.5" y="1475.5" textLength="84" lengthAdjust="spacingAndGlyphs">2022-04</text>
<text x="978.3" y="1475.5" textLength="84" lengthAdjust="spacingAndGlyphs">2022-07</text>
<text x="1215.6" y="1475.5" textLength="84" lengthAdjust="spacingAndGlyphs">2022-10</text>
<text x="1452.9" y="1475.5" textLength="84" lengthAdjust="spacingAndGlyphs">2023-01</text>
<text x="1685" y="1475.5" textLength="84" lengthAdjust="spacingAndGlyphs">2023-04</text>
<text x="1919.7" y="1475.5" textLength="84" lengthAdjust="spacingAndGlyphs">2023-07</text>
<text x="2157" y="1475.5" textLength="84" lengthAdjust="spacingAndGlyphs">2023-10</text>
<text x="2394.3" y="1475.5" textLength="84" lengthAdjust="spacingAndGlyphs">2024-01</text>
<text x="2629.1" y="1475.5" textLength="84" lengthAdjust="spacingAndGlyphs">2024-04</text>
<text x="2863.8" y="1475.5" textLength="84" lengthAdjust="spacingAndGlyphs">2024-07</text>
</g>
<g font-size="23" text-anchor="end">
<text x="387.5" y="1344" textLength="36" lengthAdjust="spacing">0.1</text>
<text x="387.5" y="1148.9" textLength="36" lengthAdjust="spacing">0.2</text>
<text x="387.5" y="953.7" textLength="36" lengthAdjust="spacing">0.3</text>
<text x="387.5" y="758.6" textLength="36" lengthAdjust="spacing">0.4</text>
<text x="387.5" y="563.4" textLength="36" lengthAdjust="spacing">0.5</text>
<text x="387.5" y="368.3" textLength="36" lengthAdjust="spacing">0.6</text>
</g>
<!-- title -->
<text x="1662" y="178" font-size="36" text-anchor="middle" textLength="1262" lengthAdjust="spacingAndGlyphs">main index holding ratio, pct within strategy: (20220104, 20240607)</text>
<!-- legend -->
<rect x="424" y="1106" width="416" height="316.5" rx="7.5" ry="7.5" fill="#ffffff" fill-opacity="0.8" stroke="#cccccc" stroke-opacity="0.8" stroke-width="2"/>
<g stroke-width="3.75" stroke-linecap="square">
<line x1="438.75" y1="1134.5" x2="513.75" y2="1134.5" stroke="#1f77b4"/>
<line x1="438.75" y1="1185.8" x2="513.75" y2="1185.8" stroke="#ff7f0e"/>
<line x1="438.75" y1="1237" x2="513.75" y2="1237" stroke="#2ca02c"/>
<line x1="438.75" y1="1288.3" x2="513.75" y2="1288.3" stroke="#d62728"/>
<line x1="438.75" y1="1339.5" x2="513.75" y2="1339.5" stroke="#9467bd"/>
<line x1="438.75" y1="1390.8" x2="513.75" y2="1390.8" stroke="#8c564b"/>
</g>
<g font-size="32">
<text x="546" y="1146" textLength="278" lengthAdjust="spacingAndGlyphs">ratio_002: 0.13</text>
<text x="546" y="1197.3" textLength="278" lengthAdjust="spacingAndGlyphs">ratio_300: 0.24</text>
<text x="546" y="1248.5" textLength="278" lengthAdjust="spacingAndGlyphs">ratio_600: 0.52</text>
<text x="546" y="1299.8" textLength="278" lengthAdjust="spacingAndGlyphs">ratio_688: 0.28</text>
<text x="546" y="1351" textLength="241" lengthAdjust="spacingAndGlyphs">ratio_sz: 0.5</text>
<text x="546" y="1402.3" textLength="241" lengthAdjust="spacingAndGlyphs">ratio_sh: 0.5</text>
</g>
</svg>
</body></html>
